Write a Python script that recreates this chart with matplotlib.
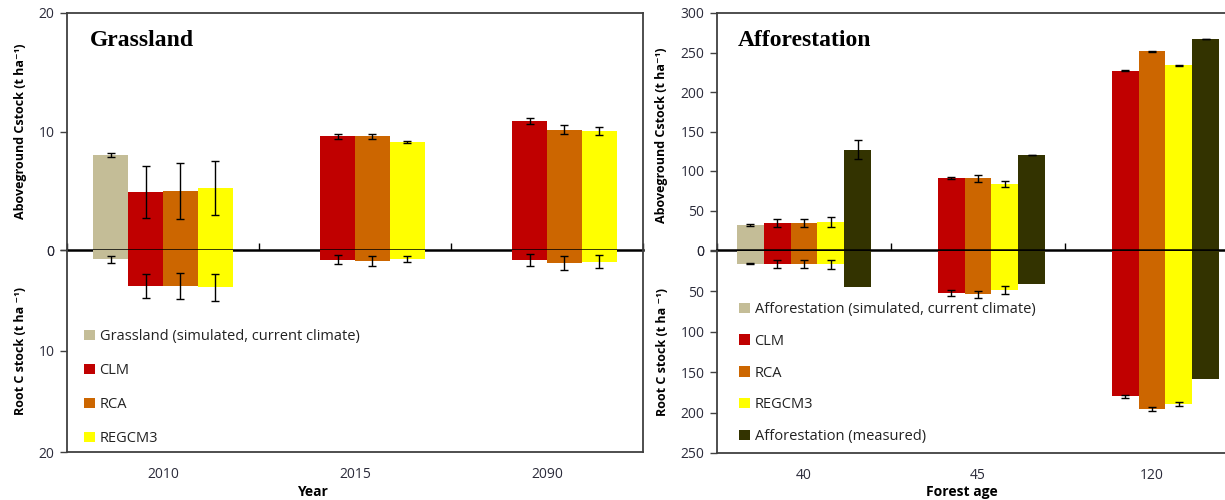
import numpy as np
import matplotlib
matplotlib.use("Agg")
import matplotlib.pyplot as plt
from matplotlib.patches import Patch

plt.rcParams['font.family'] = ['Open Sans', 'DejaVu Sans']

nan = np.nan

# Grassland panel
grass_years = ['2010', '2015', '2090']
grass_labels = ['Grassland (simulated, current climate)', 'CLM', 'RCA', 'REGCM3']
grass_above = [
    [8.0, nan, nan],
    [4.9, 9.6, 10.9],
    [5.0, 9.6, 10.15],
    [5.25, 9.1, 10.05],
]
grass_above_err = [
    [0.15, nan, nan],
    [2.2, 0.2, 0.25],
    [2.35, 0.2, 0.38],
    [2.3, 0.1, 0.34],
]
grass_root = [
    [0.9, nan, nan],
    [3.6, 0.95, 1.0],
    [3.6, 1.1, 1.3],
    [3.7, 0.9, 1.15],
]
grass_root_err = [
    [0.35, nan, nan],
    [1.2, 0.45, 0.6],
    [1.3, 0.5, 0.7],
    [1.3, 0.3, 0.65],
]

# Afforestation panel
forest_ages = ['40', '45', '120']
forest_labels = ['Afforestation (simulated, current climate)', 'CLM', 'RCA', 'REGCM3',
                 'Afforestation (measured)']
forest_above = [
    [31.5, nan, nan],
    [34, 91, 227],
    [34, 91, 251.5],
    [35.7, 83.5, 234],
    [127, 120.5, 266.5],
]
forest_above_err = [
    [0.8, nan, nan],
    [5.5, 1.7, 0.8],
    [5.5, 4.5, 0.8],
    [6.3, 3.4, 0.8],
    [12.3, 0, 0],
]
forest_root = [
    [15.6, nan, nan],
    [16.5, 52, 180],
    [16.5, 53.7, 195.6],
    [16.5, 48.8, 189.4],
    [44.2, 41.3, 158],
]
forest_root_err = [
    [0.6, nan, nan],
    [5, 3.3, 1.7],
    [5, 4, 2],
    [5.8, 5, 2],
    [nan, nan, nan],
]

grass_colors = ['#C4BD97', '#C00000', '#CC6600', '#FFFF00']
forest_colors = grass_colors + ['#333300']

W, H = 1225, 500
fig = plt.figure(figsize=(W / 100, H / 100), dpi=100)

tick_col = '#2b2b3a'
frame_col = '#404040'


def box(x0, y0, x1, y1):
    return [x0 / W, 1 - y1 / H, (x1 - x0) / W, (y1 - y0) / H]


def draw_bars(ax, values, errors, colors):
    n = len(values)
    w = 1 / (n + 1.5)
    x = np.arange(len(values[0]))
    for i, (v, e, c) in enumerate(zip(values, errors, colors)):
        pos = x - 0.5 + 0.75 * w + (i + 0.5) * w
        ax.bar(pos, v, width=w, color=c, edgecolor='none', zorder=2)
        ax.errorbar(pos, v, yerr=e, fmt='none', ecolor='black', elinewidth=1,
                    capsize=3, capthick=1, zorder=3)


def setup(ax_up, ax_lo, ncat, up_lim, up_ticks, lo_lim, lo_ticks, cats):
    for ax in (ax_up, ax_lo):
        ax.set_xlim(-0.5, ncat - 0.5)
        for s in ax.spines.values():
            s.set_color(frame_col)
            s.set_linewidth(1.3)
        ax.tick_params(axis='y', direction='out', length=5, width=1, color=frame_col,
                       labelsize=10, labelcolor=tick_col, pad=4)
    ax_up.set_ylim(*up_lim)
    ax_up.set_yticks(up_ticks)
    ax_up.spines['bottom'].set_color('black')
    ax_up.spines['bottom'].set_linewidth(1.8)
    ax_up.spines['bottom'].set_zorder(4)
    ax_up.set_xticks(np.arange(ncat + 1) - 0.5)
    ax_up.tick_params(axis='x', direction='in', length=5, width=1, color='black',
                      labelbottom=False)
    ax_lo.spines['top'].set_visible(False)
    ax_lo.set_ylim(*lo_lim)
    ax_lo.set_yticks(lo_ticks)
    ax_lo.set_xticks(np.arange(ncat))
    ax_lo.set_xticklabels(cats)
    ax_lo.tick_params(axis='x', length=0, labelsize=10, labelcolor=tick_col, pad=11)
    ax_lo.patch.set_alpha(0)


# left panel
g_up = fig.add_axes(box(67, 13, 643, 250))
g_lo = fig.add_axes(box(67, 250, 643, 452))
draw_bars(g_up, grass_above, grass_above_err, grass_colors)
draw_bars(g_lo, grass_root, grass_root_err, grass_colors)
setup(g_up, g_lo, 3, (0, 20), [0, 10, 20], (20, 0), [0, 10, 20], grass_years)

# right panel
f_up = fig.add_axes(box(717, 13, 1239, 250))
f_lo = fig.add_axes(box(717, 251, 1239, 453))
draw_bars(f_up, forest_above, forest_above_err, forest_colors)
draw_bars(f_lo, forest_root, forest_root_err, forest_colors)
setup(f_up, f_lo, 3, (0, 300), range(0, 301, 50), (250, 0), range(0, 251, 50), forest_ages)

# titles
fig.text(90 / W, 1 - 40 / H, 'Grassland', family='Liberation Serif', weight='bold',
         fontsize=17, va='center', ha='left')
fig.text(738 / W, 1 - 40 / H, 'Afforestation', family='Liberation Serif', weight='bold',
         fontsize=17, va='center', ha='left')

# axis labels
ylab = dict(rotation=90, ha='center', va='center', fontsize=9, weight='bold')
fig.text(21 / W, 1 - 131 / H, 'Aboveground Cstock (t ha\u207b\u00b9)', **ylab)
fig.text(21 / W, 1 - 351 / H, 'Root C stock (t ha \u207b\u00b9)', **ylab)
fig.text(662 / W, 1 - 135 / H, 'Aboveground Cstock (t ha\u207b\u00b9)', **ylab)
fig.text(662 / W, 1 - 352 / H, 'Root C stock (t ha \u207b\u00b9)', **ylab)
fig.text(312 / W, 1 - 492 / H, 'Year', ha='center', va='center', fontsize=10, weight='bold')
fig.text(962 / W, 1 - 492 / H, 'Forest age', ha='center', va='center', fontsize=10,
         weight='bold')

# legends
leg_kw = dict(loc='upper left', frameon=False, fontsize=10.5, handlelength=0.72,
              handleheight=0.72, handletextpad=0.35, borderaxespad=0, borderpad=0,
              labelcolor='#222222')
g_handles = [Patch(facecolor=c, edgecolor='none') for c in grass_colors]
g_lo.legend(g_handles, grass_labels, bbox_to_anchor=(84 / W, 1 - 329 / H),
            bbox_transform=fig.transFigure, labelspacing=1.3, **leg_kw)
f_handles = [Patch(facecolor=c, edgecolor='none') for c in forest_colors]
f_lo.legend(f_handles, forest_labels, bbox_to_anchor=(739 / W, 1 - 302 / H),
            bbox_transform=fig.transFigure, labelspacing=1.15, **leg_kw)

fig.savefig('out.png', dpi=100)
